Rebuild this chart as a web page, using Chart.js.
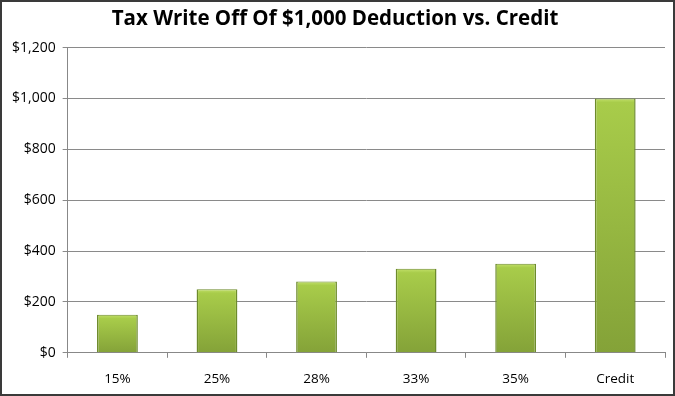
<!DOCTYPE html>
<html>
<head>
<meta charset="utf-8">
<script src="https://cdn.jsdelivr.net/npm/chart.js@4.4.0/dist/chart.umd.min.js"></script>
<style>
  html, body { margin: 0; padding: 0; background: #fff; }
  #wrap {
    width: 675px; height: 396px; box-sizing: border-box;
    border: 2px solid #3a3a3a; position: relative;
  }
</style>
</head>
<body>
<div id="wrap"><canvas id="grafico"></canvas></div>
<script>
var categories = ['15%', '25%', '28%', '33%', '35%', 'Credit'];
var writeOff = [150, 250, 280, 330, 350, 1000];
var yTicks = [0, 200, 400, 600, 800, 1000, 1200];

(function () {
    // gradiente por barra: claro arriba, mas oscuro abajo
    function barFill(context) {
        var chart = context.chart;
        var area = chart.chartArea;
        if (!area || context.type !== 'data') return '#9bbf3e';
        var y = chart.scales.y;
        var top = y.getPixelForValue(context.raw);
        var bottom = y.getPixelForValue(0);
        var g = chart.ctx.createLinearGradient(0, top, 0, bottom);
        g.addColorStop(0, '#c2e06a');
        g.addColorStop(Math.min(0.9, 4 / (bottom - top + 1)), '#a8cc4a');
        g.addColorStop(1, '#84a238');
        return g;
    }

    var ctx = document.getElementById('grafico').getContext('2d');
    new Chart(ctx, {
        type: 'bar',
        data: {
            labels: categories,
            datasets: [{
                label: 'Write off',
                data: writeOff,
                backgroundColor: barFill,
                borderColor: '#6d8b2c',
                borderWidth: { left: 1.5, right: 1.5, top: 1, bottom: 0 },
                barPercentage: 0.41,
                categoryPercentage: 1.0
            }]
        },
        options: {
            responsive: true,
            maintainAspectRatio: false,
            animation: false,
            layout: { padding: { left: 3, right: 8, top: 2, bottom: -6 } },
            plugins: {
                legend: { display: false },
                tooltip: { enabled: false },
                title: {
                    display: true,
                    text: 'Tax Write Off Of $1,000 Deduction vs. Credit',
                    color: '#000',
                    font: { family: 'Open Sans', size: 20.5, weight: 'bold' },
                    padding: { top: 3, bottom: 16 }
                }
            },
            scales: {
                x: {
                    grid: {
                        display: true,
                        drawOnChartArea: false,
                        offset: true,
                        tickLength: 5,
                        color: '#888'
                    },
                    border: { color: '#888' },
                    ticks: {
                        color: '#000',
                        font: { family: 'Open Sans', size: 13.5 },
                        padding: 13
                    }
                },
                y: {
                    min: 0,
                    max: 1200,
                    afterBuildTicks: function (axis) {
                        axis.ticks = yTicks.map(function (v) { return { value: v }; });
                    },
                    grid: {
                        color: '#8a8a8a',
                        tickLength: 5
                    },
                    border: { color: '#888' },
                    ticks: {
                        color: '#000',
                        font: { family: 'Open Sans', size: 14 },
                        padding: 7,
                        callback: function (v) { return '$' + v.toLocaleString('en-US'); }
                    }
                }
            }
        }
    });
})();
</script>
</body>
</html>
